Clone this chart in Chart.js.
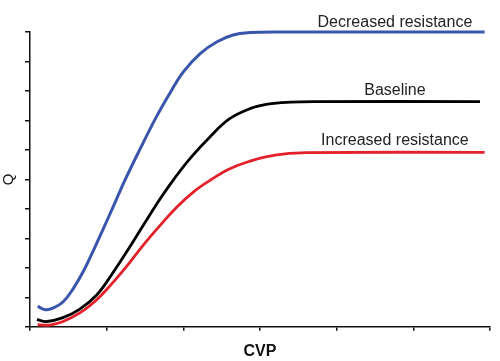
<!DOCTYPE html>
<html>
<head>
<meta charset="utf-8">
<script src="https://cdn.jsdelivr.net/npm/chart.js@4"></script>
<style>
  html, body { margin: 0; padding: 0; background: #fff; }
  #wrap { width: 500px; height: 361px; }
</style>
</head>
<body>
<div id="wrap"><canvas id="qChart"></canvas></div>
<script>
// curve samples (CVP on x, Q on y)
const decreasedX = [0.1, 0.2, 0.3, 0.43, 0.56, 0.70, 0.82, 0.96, 1.09, 1.24, 1.43, 1.65, 1.83, 2.0, 2.22, 2.44, 2.65, 2.87, 3.2, 5.93];
const decreasedY = [0.69, 0.58, 0.63, 0.84, 1.28, 1.9, 2.55, 3.35, 4.1, 4.98, 6.0, 7.13, 7.95, 8.65, 9.27, 9.67, 9.9, 9.98, 10, 10];

const baselineX = [0.09, 0.22, 0.43, 0.65, 0.87, 1.06, 1.28, 1.48, 1.70, 1.88, 2.1, 2.35, 2.6, 2.87, 3.1, 3.4, 3.7, 5.87];
const baselineY = [0.24, 0.18, 0.31, 0.6, 1.08, 1.75, 2.62, 3.45, 4.35, 5.02, 5.75, 6.45, 7.05, 7.40, 7.55, 7.62, 7.64, 7.64];

const increasedX = [0.1, 0.26, 0.43, 0.65, 0.87, 1.04, 1.26, 1.48, 1.70, 1.91, 2.13, 2.35, 2.6, 2.87, 3.09, 3.3, 3.6, 5.93];
const increasedY = [0.07, 0.06, 0.18, 0.47, 0.92, 1.38, 2.05, 2.78, 3.45, 4.05, 4.57, 4.97, 5.35, 5.62, 5.77, 5.86, 5.91, 5.92];

const seriesNames = ['Decreased resistance', 'Baseline', 'Increased resistance'];

function pts(xs, ys) {
    return xs.map(function (x, i) { return { x: x, y: ys[i] }; });
}

// text labels sitting above each plateau
const curveLabels = {
    id: 'curveLabels',
    afterDatasetsDraw(chart) {
        const ctx = chart.ctx;
        const xs = chart.scales.x;
        const ys = chart.scales.y;
        const spots = [[4.76, 10.17], [4.76, 7.86], [4.76, 6.17]];
        ctx.save();
        ctx.font = '16px "Liberation Sans", Arial, sans-serif';
        ctx.fillStyle = '#222';
        ctx.textAlign = 'center';
        ctx.textBaseline = 'alphabetic';
        seriesNames.forEach(function (name, i) {
            ctx.fillText(name, xs.getPixelForValue(spots[i][0]), ys.getPixelForValue(spots[i][1]));
        });
        ctx.restore();
    }
};

const ctx = document.getElementById('qChart').getContext('2d');

new Chart(ctx, {
    type: 'line',
    data: {
        datasets: [
            {
                label: seriesNames[0],
                data: pts(decreasedX, decreasedY),
                borderColor: '#3a56ac',
                borderWidth: 3,
                clip: false
            },
            {
                label: seriesNames[1],
                data: pts(baselineX, baselineY),
                borderColor: '#000000',
                borderWidth: 2.8,
                clip: false
            },
            {
                label: seriesNames[2],
                data: pts(increasedX, increasedY),
                borderColor: '#e3212b',
                borderWidth: 2.8,
                clip: false
            }
        ]
    },
    options: {
        responsive: true,
        maintainAspectRatio: false,
        animation: false,
        layout: { padding: { top: 32, right: 10, left: 0, bottom: 0 } },
        elements: {
            point: { radius: 0 },
            line: { tension: 0.4, fill: false }
        },
        plugins: {
            legend: { display: false },
            tooltip: { enabled: false }
        },
        scales: {
            x: {
                type: 'linear',
                min: 0,
                max: 6,
                ticks: { display: false, stepSize: 1 },
                grid: { drawOnChartArea: false, drawTicks: true, tickLength: 4, color: '#111', lineWidth: 1.5 },
                border: { color: '#111', width: 1.5 },
                title: {
                    display: true,
                    text: 'CVP',
                    color: '#111',
                    font: { family: '"Liberation Sans", Arial, sans-serif', size: 16, weight: 'bold' },
                    padding: { top: 11, bottom: 0 }
                }
            },
            y: {
                min: 0,
                max: 10,
                ticks: { display: false, stepSize: 1 },
                grid: { drawOnChartArea: false, drawTicks: true, tickLength: 5, color: '#111', lineWidth: 1.5 },
                border: { color: '#111', width: 1.5 },
                title: {
                    display: true,
                    text: 'Q',
                    color: '#111',
                    font: { family: '"Liberation Sans", Arial, sans-serif', size: 15 },
                    padding: { top: 0, bottom: 7 }
                }
            }
        }
    },
    plugins: [curveLabels]
});
</script>
</body>
</html>
